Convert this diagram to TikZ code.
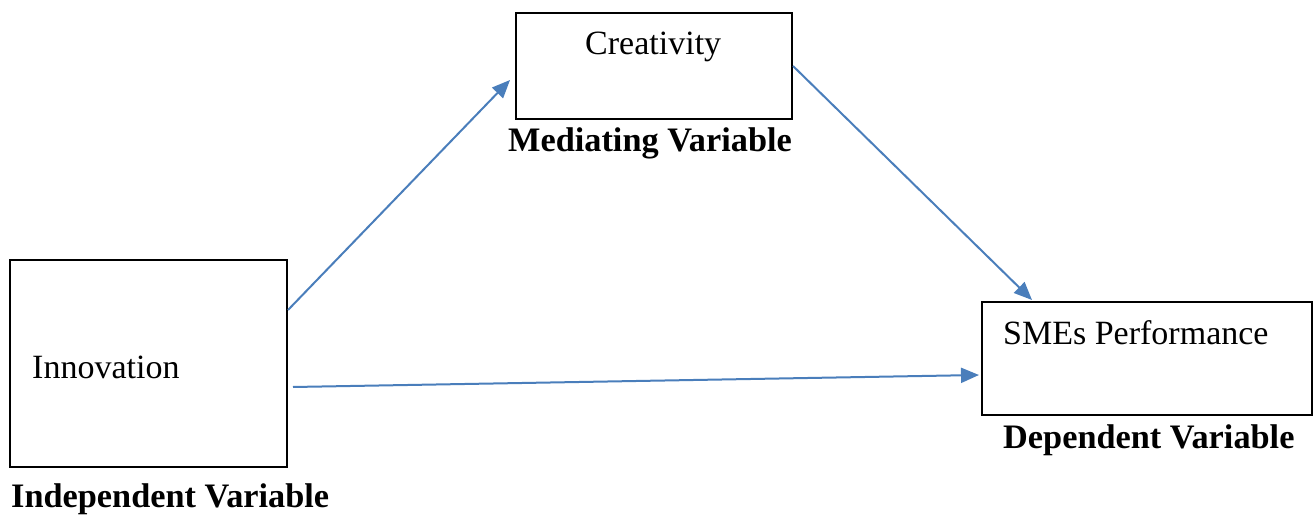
\documentclass[tikz,border=0pt]{standalone}
\usepackage{fontspec}
\setmainfont{Liberation Serif}
\usetikzlibrary{arrows.meta,calc}
\definecolor{arrowblue}{RGB}{74,126,187}
\begin{document}
\begin{tikzpicture}[x=1pt,y=-1pt,
  box/.style={draw=black,line width=1.8pt,inner sep=0pt,outer sep=0pt,anchor=north west},
  txt/.style={inner sep=0pt,anchor=base west,font=\fontsize{34}{40}\selectfont},
  lbl/.style={inner sep=0pt,anchor=base west,font=\fontsize{34.3}{40}\selectfont\bfseries},
  link/.style={draw=arrowblue,line width=2pt,-{Triangle[length=18pt,width=15pt]}}]
\useasboundingbox (0,0) rectangle (1314,516);
% boxes
\node[box,minimum width=277pt,minimum height=207pt] (inno) at (10,260) {};
\node[box,minimum width=276pt,minimum height=106pt] (crea) at (516,13) {};
\node[box,minimum width=330pt,minimum height=113pt] (sme) at (982,302) {};
% texts
\node[txt] (tinno) at (32,378) {Innovation};
\node[txt] (tcrea) at (585,55) {Creativity};
\node[txt] (tsme) at (1003,344) {SMEs Performance};
\node[lbl] (lind) at (11,507) {Independent Variable};
\node[lbl] (lmed) at (508,152) {Mediating Variable};
\node[lbl] (ldep) at (1003,448) {Dependent Variable};
% connector endpoints
\coordinate (a1s) at ($(inno.north east)+(1,50)$);
\coordinate (a1e) at ($(crea.north west)+(-6,67)$);
\coordinate (a2s) at ($(crea.north east)+(1,53)$);
\coordinate (a2e) at ($(sme.north west)+(50,-2)$);
\coordinate (a3s) at ($(inno.north east)+(6,127)$);
\coordinate (a3e) at ($(sme.north west)+(-3,73)$);
\draw[link] (a1s) -- (a1e);
\draw[link] (a2s) -- (a2e);
\draw[link] (a3s) -- (a3e);
\end{tikzpicture}
\end{document}
